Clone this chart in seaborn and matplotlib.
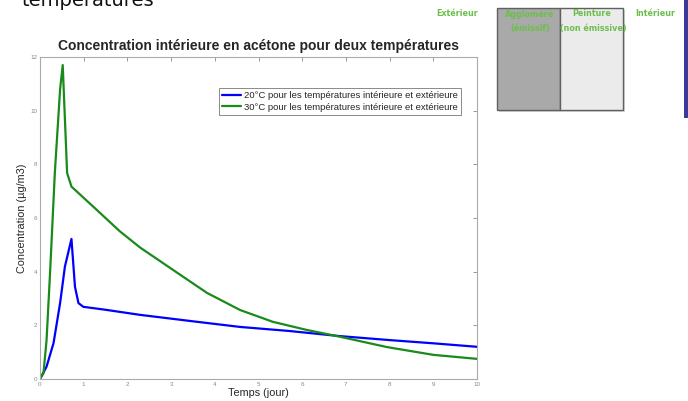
import matplotlib
matplotlib.use("Agg")
import matplotlib.pyplot as plt
import seaborn as sns
import pandas as pd
from matplotlib.patches import Rectangle

# Data
green_x = [0, 0.08, 0.15, 0.23, 0.34, 0.46, 0.52, 0.62, 0.72, 0.92, 1.3, 1.83, 2.29,
           3.04, 3.82, 4.58, 5.33, 6.1, 6.85, 7.94, 9.0, 10]
green_y = [0, 0.22, 1.45, 3.95, 7.7, 10.8, 11.7, 7.68, 7.17, 6.87, 6.3, 5.5, 4.9,
           4.07, 3.21, 2.57, 2.13, 1.83, 1.58, 1.19, 0.9, 0.75]
blue_x = [0, 0.15, 0.31, 0.46, 0.57, 0.72, 0.8, 0.88, 0.99, 1.5, 2.29, 3.5, 4.58,
          5.7, 6.85, 8, 9, 10]
blue_y = [0, 0.46, 1.34, 2.83, 4.19, 5.22, 3.44, 2.83, 2.69, 2.58, 2.39, 2.15, 1.94,
          1.79, 1.6, 1.45, 1.33, 1.2]
labels = ["20°C pour les températures intérieure et extérieure",
          "30°C pour les températures intérieure et extérieure"]
x_ticks = list(range(0, 11))
y_ticks = [0, 2, 4, 6, 8, 10, 12]

df = pd.concat([
    pd.DataFrame({"x": blue_x, "y": blue_y, "serie": labels[0]}),
    pd.DataFrame({"x": green_x, "y": green_y, "serie": labels[1]}),
])

sns.set_style("white")
plt.rcParams['font.family'] = ['Liberation Sans', 'DejaVu Sans']

fig = plt.figure(figsize=(6.88, 4.01), dpi=100)
ax = fig.add_axes([40/688, 1-379/401, 437/688, 322/401])

sns.lineplot(data=df, x="x", y="y", hue="serie", sort=False, estimator=None,
             palette={labels[0]: "#0000ff", labels[1]: "#1a8a1a"},
             linewidth=1.6, ax=ax)

ax.set_xlim(0, 10)
ax.set_ylim(0, 12)
ax.set_xticks(x_ticks)
ax.set_yticks(y_ticks)
ax.tick_params(direction="in", length=3, width=0.6, colors="#888888",
               labelsize=4.5, top=True, right=True, pad=2)
for s in ax.spines.values():
    s.set_color("#aaaaaa")
    s.set_linewidth(0.8)

ax.set_title("Concentration intérieure en acétone pour deux températures",
             fontsize=10, fontweight="bold", pad=5)
ax.set_xlabel("Temps (jour)", fontsize=7.8, labelpad=1)
ax.set_ylabel("Concentration (µg/m3)", fontsize=7.8, labelpad=2)

leg = ax.legend(loc="upper left", bbox_to_anchor=(0.41, 0.905), fontsize=6.8,
                frameon=True, fancybox=False, edgecolor="#555555",
                handlelength=2.0, handletextpad=0.3, borderpad=0.35,
                labelspacing=0.3, borderaxespad=0)
leg.get_frame().set_linewidth(0.6)

# cut-off text at top left (partially outside the picture, as in the reference)
fig.text(22/688, 1 - 6/401, "températures", fontsize=14, va="baseline", ha="left",
         color="#111111", family="DejaVu Sans")

# diagram at right
shadow = Rectangle((499/688, 1-112/401), 126/688, 102/401, transform=fig.transFigure,
                   facecolor="#d8d8d8", edgecolor="none")
fig.patches.append(shadow)
r1 = Rectangle((497/688, 1-110/401), 63/688, 102/401, transform=fig.transFigure,
               facecolor="#a9a9a9", edgecolor="#606060", linewidth=1.0)
r2 = Rectangle((560/688, 1-110/401), 63/688, 102/401, transform=fig.transFigure,
               facecolor="#ebebeb", edgecolor="#606060", linewidth=1.0)
fig.patches.extend([r1, r2])
strip = Rectangle((684/688, 1-118/401), 4/688, 118/401, transform=fig.transFigure,
                  facecolor="#3a3a9a", edgecolor="none")
fig.patches.append(strip)

gc = "#6cbf4c"
for (px, py, t) in [(457, 14, "Extérieur"), (530, 14, "Aggloméré"), (530, 29, "(émissif)"),
                    (592, 14, "Peinture"), (593, 29, "(non émissive)"), (655, 14, "Intérieur")]:
    fig.text(px/688, 1-py/401, t, fontsize=5.8, fontweight="bold", color=gc,
             ha="center", va="center", family="DejaVu Sans")

fig.savefig("out.png", dpi=100)
